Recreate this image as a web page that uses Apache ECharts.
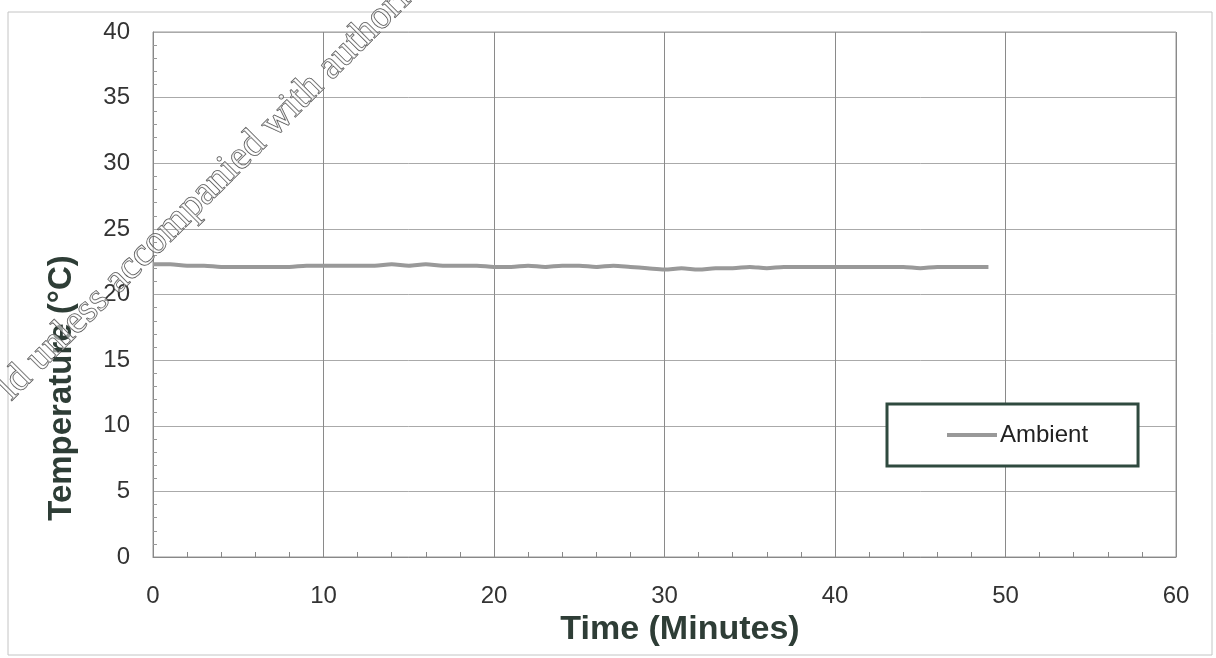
<!DOCTYPE html>
<html>
<head>
<meta charset="utf-8">
<script src="https://cdn.jsdelivr.net/npm/echarts@6/dist/echarts.min.js"></script>
<style>
html,body{margin:0;padding:0;background:#fff;}
#c{width:1216px;height:658px;}
</style>
</head>
<body>
<div id="c"></div>
<script>
// Data
const seriesName = 'Ambient';
const timeMinutes = [0,1,2,3,4,5,6,7,8,9,10,11,12,13,14,15,16,17,18,19,20,21,22,23,24,25,26,27,28,29,30,31,32,33,34,35,36,37,38,39,40,41,42,43,44,45,46,47,48,49];
const ambientTemp = [22.3,22.3,22.2,22.2,22.1,22.1,22.1,22.1,22.1,22.2,22.2,22.2,22.2,22.2,22.3,22.2,22.3,22.2,22.2,22.2,22.1,22.1,22.2,22.1,22.2,22.2,22.1,22.2,22.1,22.0,21.9,22.0,21.9,22.0,22.0,22.1,22.0,22.1,22.1,22.1,22.1,22.1,22.1,22.1,22.1,22.0,22.1,22.1,22.1,22.1];
const xTitle = 'Time (Minutes)';
const yTitle = 'Temperature (°C)';
const watermark = 'ld unless accompanied with authori';

const FONT = '"Liberation Sans Narrow", "Liberation Sans", Arial, sans-serif';
const chart = echarts.init(document.getElementById('c'), null, {renderer: 'canvas'});
const pts = timeMinutes.map((t, i) => [t, ambientTemp[i]]);

chart.setOption({
  backgroundColor: '#ffffff',
  animation: false,
  grid: {left: 153, right: 40, top: 32, bottom: 101, show: true, borderColor: '#999', borderWidth: 1},
  xAxis: {
    type: 'value', min: 0, max: 60, interval: 10,
    axisLine: {show: true, lineStyle: {color: '#888', width: 1}},
    axisTick: {show: false, inside: true},
    minorTick: {show: true, splitNumber: 5, length: 5, lineStyle: {color: '#888'}},
    axisLabel: {fontFamily: FONT, fontSize: 24, color: '#333', margin: 27},
    splitLine: {show: true, lineStyle: {color: '#8a8a8a', width: 1}}
  },
  yAxis: {
    type: 'value', min: 0, max: 40, interval: 5,
    axisLine: {show: true, lineStyle: {color: '#888', width: 1}},
    axisTick: {show: false, inside: true},
    minorTick: {show: true, splitNumber: 5, length: 4, lineStyle: {color: '#999'}},
    axisLabel: {fontFamily: FONT, fontSize: 24, color: '#333', margin: 23},
    splitLine: {show: true, lineStyle: {color: '#aaa', width: 1}}
  },
  legend: {
    show: true,
    left: 887, top: 404,
    orient: 'horizontal',
    padding: [19, 50, 19, 60],
    borderColor: '#2f4a3f', borderWidth: 3, backgroundColor: '#fff',
    itemWidth: 50, itemHeight: 4, itemGap: 0,
    icon: 'rect',
    textStyle: {fontFamily: FONT, fontSize: 24, color: '#222', padding: [0, 0, 0, -2]},
    data: [seriesName]
  },
  series: [{
    name: seriesName,
    type: 'line',
    data: pts,
    showSymbol: false,
    smooth: 0.3,
    lineStyle: {color: '#999999', width: 4},
    itemStyle: {color: '#999999'},
    z: 3
  }],
  graphic: [
    {type: 'rect', shape: {x: 8, y: 12, width: 1204, height: 643}, style: {fill: 'none', stroke: '#c4c4c4', lineWidth: 1}, silent: true, z: -1},
    {type: 'text', x: 62, y: 388, rotation: Math.PI / 2,
      style: {text: yTitle, font: 'bold 33px ' + FONT, fill: '#2e3d36', align: 'center', verticalAlign: 'middle'}},
    {type: 'text', x: 680, y: 630,
      style: {text: xTitle, font: 'bold 34px ' + FONT, fill: '#2e3d36', align: 'center', verticalAlign: 'middle'}},
    {type: 'text', x: 18, y: 408, rotation: Math.PI / 4, z: 10,
      style: {text: watermark, font: '40px "Liberation Serif", "DejaVu Serif", serif', fill: 'rgba(255,255,255,0.5)', stroke: '#444', lineWidth: 1, align: 'left', verticalAlign: 'bottom'}}
  ]
});
</script>
</body>
</html>
